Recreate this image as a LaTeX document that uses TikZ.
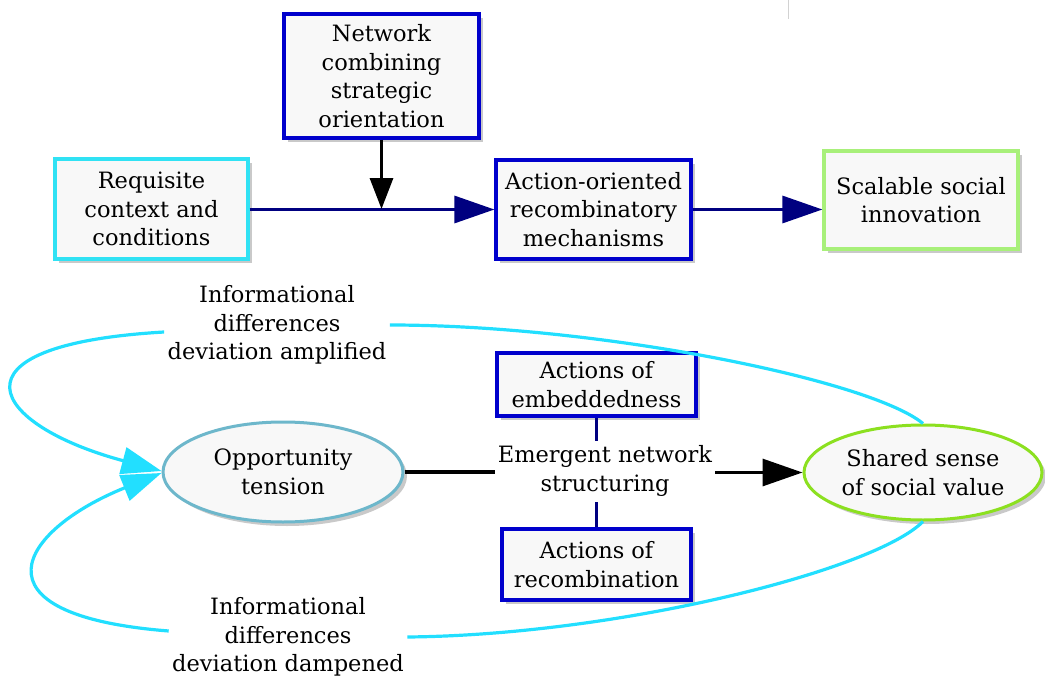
\documentclass[tikz,border=0pt]{standalone}
\usepackage{fontspec}
\setmainfont{DejaVu Serif}
\usetikzlibrary{arrows.meta,shadows,shapes.geometric}

\definecolor{boxfill}{HTML}{F8F8F8}
\definecolor{ctxcyan}{HTML}{30E2F4}
\definecolor{netblue}{HTML}{0000CC}
\definecolor{leafgreen}{HTML}{A8F07A}
\definecolor{oppedge}{HTML}{6DB7CB}
\definecolor{sharedgreen}{HTML}{8CE020}
\definecolor{loopcyan}{HTML}{22DFFF}
\definecolor{linknavy}{HTML}{000080}

\begin{document}
\begin{tikzpicture}[x=1pt,y=-1pt,
  every node/.style={font=\fontsize{22.5}{28.5}\selectfont, align=center},
  softshadow/.style={drop shadow={shadow xshift=4pt, shadow yshift=-4pt, fill=black!70, opacity=0.3}},
  box/.style={draw, line width=3.2pt, fill=boxfill, inner sep=0pt, softshadow},
  oval/.style={ellipse, draw, line width=3pt, fill=boxfill, inner sep=0pt, softshadow},
  tag/.style={inner xsep=3pt, inner ysep=5pt},
  bigtip/.style={-{Triangle[length=40pt,width=27pt]}},
  smalltip/.style={-{Triangle[length=31pt,width=23pt]}},
  navyline/.style={draw=linknavy, line width=3.2pt},
  blackline/.style={draw=black, line width=3.2pt},
  loop/.style={draw=loopcyan, line width=3.2pt},
]
\useasboundingbox (0,0) rectangle (1045,677);

% small grey rule at the top edge
\draw[gray!35, line width=1pt] (788,0) -- (788,19);

% upper chain
\node[box, draw=ctxcyan, minimum width=193pt, minimum height=100pt]
  (req) at (151.5,209) {Requisite\\context and\\conditions};
\node[box, draw=netblue, minimum width=195pt, minimum height=124pt]
  (net) at (381.5,76) {Network\\combining\\strategic\\orientation};
\node[box, draw=netblue, minimum width=195pt, minimum height=99pt]
  (act) at (593.5,209.5) {Action-oriented\\recombinatory\\mechanisms};
\node[box, draw=leafgreen, minimum width=194pt, minimum height=98pt]
  (scal) at (921,200) {Scalable social\\innovation};

\coordinate (join) at (381.5,209);
\draw[navyline, bigtip] (req.east |- act.west) -- (act.west);
\draw[blackline, smalltip] (net.south) -- (join);
\draw[navyline, bigtip] (act.east) -- (act.east -| scal.west);

% lower loop
\node[oval, draw=oppedge, minimum width=240pt, minimum height=100pt]
  (opp) at (283,472) {Opportunity\\tension};
\node[oval, draw=sharedgreen, minimum width=238pt, minimum height=95pt]
  (shared) at (923,472.5) {Shared sense\\of social value};

\node[box, draw=netblue, minimum width=199pt, minimum height=63pt]
  (emb) at (596.5,384.5) {Actions of\\embeddedness};
\node[box, draw=netblue, minimum width=189pt, minimum height=71pt]
  (rec) at (596.5,564.5) {Actions of\\recombination};
\node[tag] (emerg) at (605,471) {Emergent network\\structuring};

\draw[blackline] (opp.east) -- (opp.east -| emerg.west);
\draw[blackline, bigtip] (emerg.east |- shared.west) -- (shared.west);
\draw[navyline] (emb.south) -- (emb.south |- emerg.north);
\draw[navyline] (rec.north) -- (rec.north |- emerg.south);

% feedback labels and loops
\node (amp) at (277,325) {Informational\\differences\\deviation amplified};
\node (damp) at (288,637) {Informational\\differences\\deviation dampened};

\draw[loop] (shared.north) .. controls (870,380) and (600,325) .. (amp.east);
\draw[loop, bigtip] ([yshift=-7pt]amp.west) .. controls (-60,345) and (-10,425) .. ([yshift=1pt]opp.west);
\draw[loop] (shared.south) .. controls (875,570) and (620,635) .. (damp.east);
\draw[loop, bigtip] ([yshift=6pt]damp.west) .. controls (-35,615) and (20,530) .. ([yshift=-1pt]opp.west);
\end{tikzpicture}
\end{document}
